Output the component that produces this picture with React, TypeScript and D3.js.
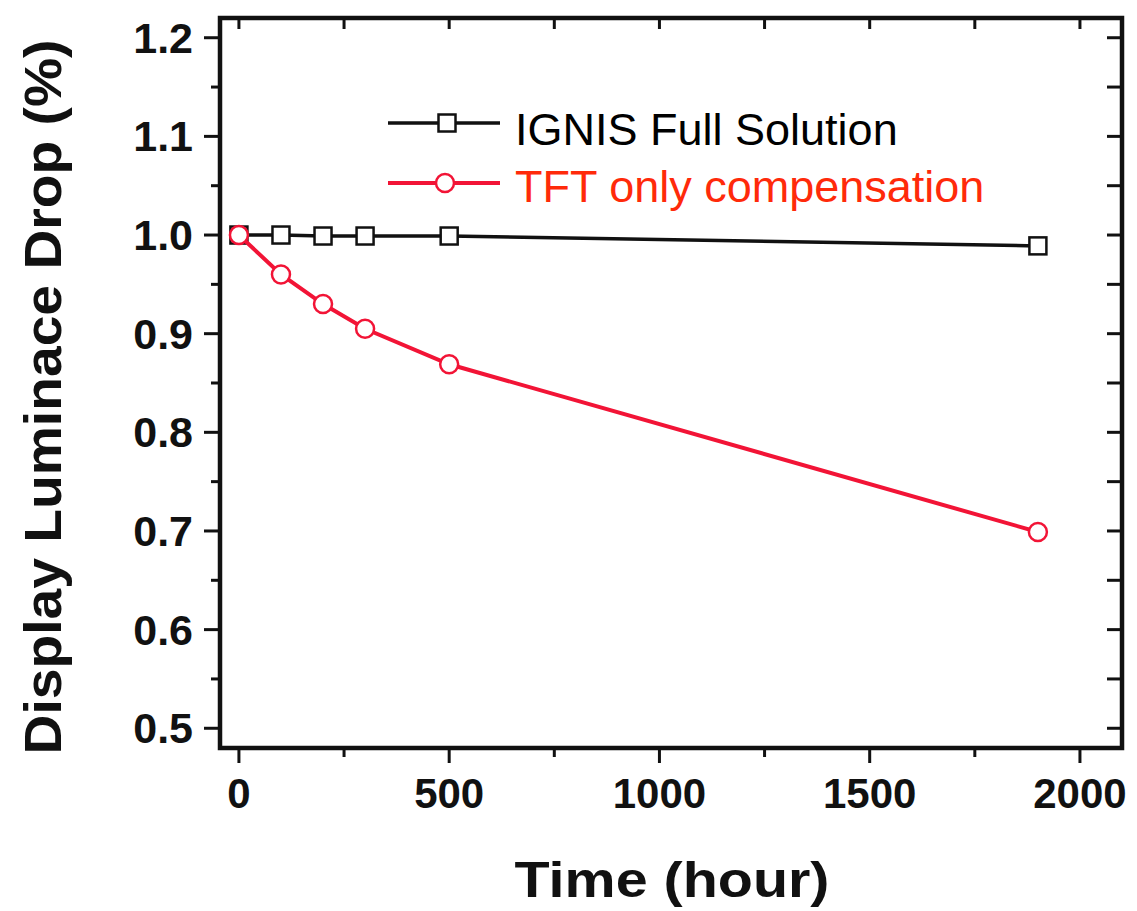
import React from "react";
import * as d3 from "d3";

const hours = [0, 100, 200, 300, 500, 1900];
const ignisValues = [1.0, 1.0, 0.999, 0.999, 0.999, 0.989];
const tftValues = [1.0, 0.96, 0.93, 0.905, 0.869, 0.699];
const seriesNames = ["IGNIS Full Solution", "TFT only compensation"];
const xMajorTicks = [0, 500, 1000, 1500, 2000];
const xMinorTicks = [250, 750, 1250, 1750];
const yMajorTicks = [0.5, 0.6, 0.7, 0.8, 0.9, 1.0, 1.1, 1.2];
const yMinorTicks = [0.55, 0.65, 0.75, 0.85, 0.95, 1.05, 1.15];
const xTitle = "Time (hour)";
const yTitle = "Display Luminace Drop (%)";

const W = 1137;
const H = 911;
const L = 220, R = 1122, T = 18, B = 748;

const BLACK = "#111";
const RED_LINE = "#f21436";
const RED_TEXT = "#ff2a0a";

export default function App() {
  const x = d3.scaleLinear().domain([-45, 2100]).range([L, R]);
  const y = d3.scaleLinear().domain([0.48, 1.22]).range([B, T]);
  const line = d3
    .line<[number, number]>()
    .x((d) => x(d[0]))
    .y((d) => y(d[1]));
  const ignis: [number, number][] = hours.map((h, i) => [h, ignisValues[i]]);
  const tft: [number, number][] = hours.map((h, i) => [h, tftValues[i]]);
  const bold = "'Liberation Sans', Arial, sans-serif";

  return (
    <svg
      width={W}
      height={H}
      style={{ position: "absolute", left: 0, top: 0, background: "#fff" }}
    >
      <rect x={0} y={0} width={W} height={H} fill="#fff" />
      {/* ticks */}
      <g stroke={BLACK} strokeWidth={3}>
        {yMajorTicks.map((v) => (
          <g key={"ym" + v}>
            <line x1={L - 16} x2={L} y1={y(v)} y2={y(v)} />
            <line x1={R - 15} x2={R} y1={y(v)} y2={y(v)} />
          </g>
        ))}
        {yMinorTicks.map((v) => (
          <g key={"yn" + v}>
            <line x1={L - 9} x2={L} y1={y(v)} y2={y(v)} />
            <line x1={R - 15} x2={R} y1={y(v)} y2={y(v)} />
          </g>
        ))}
        {xMajorTicks.map((v) => (
          <g key={"xm" + v}>
            <line x1={x(v)} x2={x(v)} y1={B} y2={B + 15} />
            <line x1={x(v)} x2={x(v)} y1={T} y2={T + 11} />
          </g>
        ))}
        {xMinorTicks.map((v) => (
          <g key={"xn" + v}>
            <line x1={x(v)} x2={x(v)} y1={B} y2={B + 9} />
            <line x1={x(v)} x2={x(v)} y1={T} y2={T + 11} />
          </g>
        ))}
      </g>
      {/* frame */}
      <rect
        x={L}
        y={T}
        width={R - L}
        height={B - T}
        fill="none"
        stroke={BLACK}
        strokeWidth={4.5}
      />
      {/* tick labels */}
      <g fontFamily={bold} fontWeight="bold" fill={BLACK}>
        {yMajorTicks.map((v) => (
          <text
            key={"yl" + v}
            x={193}
            y={y(v) + 15}
            textAnchor="end"
            fontSize={43}
          >
            {v.toFixed(1)}
          </text>
        ))}
        {xMajorTicks.map((v) => (
          <text key={"xl" + v} x={x(v)} y={808} textAnchor="middle" fontSize={42}>
            {String(v)}
          </text>
        ))}
      </g>
      {/* axis titles */}
      <text
        x={672}
        y={897}
        textAnchor="middle"
        fontFamily={bold}
        fontWeight="bold"
        fontSize={50}
        textLength={315}
        lengthAdjust="spacingAndGlyphs"
        fill={BLACK}
      >
        {xTitle}
      </text>
      <text
        transform="translate(61,397) rotate(-90)"
        textAnchor="middle"
        fontFamily={bold}
        fontWeight="bold"
        fontSize={52}
        textLength={715}
        lengthAdjust="spacingAndGlyphs"
        fill={BLACK}
      >
        {yTitle}
      </text>
      {/* series */}
      <path d={line(ignis) ?? ""} fill="none" stroke={BLACK} strokeWidth={3.5} />
      {ignis.map((d, i) => (
        <rect
          key={"sq" + i}
          x={x(d[0]) - 8.5}
          y={y(d[1]) - 8.5}
          width={17}
          height={17}
          fill="#fff"
          stroke={BLACK}
          strokeWidth={2.5}
        />
      ))}
      <path d={line(tft) ?? ""} fill="none" stroke={RED_LINE} strokeWidth={4} />
      {tft.map((d, i) => (
        <circle
          key={"ci" + i}
          cx={x(d[0])}
          cy={y(d[1])}
          r={9}
          fill="#fff"
          stroke={RED_LINE}
          strokeWidth={2.5}
        />
      ))}
      {/* legend */}
      <line x1={388} x2={500} y1={123} y2={123} stroke={BLACK} strokeWidth={3.5} />
      <rect x={447 - 8.5} y={123 - 8.5} width={17} height={17} fill="#fff" stroke={BLACK} strokeWidth={2.5} />
      <text x={515} y={145} fontFamily={bold} fontSize={45} fill="#000">
        {seriesNames[0]}
      </text>
      <line x1={388} x2={500} y1={183} y2={183} stroke={RED_LINE} strokeWidth={4} />
      <circle cx={445} cy={183} r={9} fill="#fff" stroke={RED_LINE} strokeWidth={2.5} />
      <text x={515} y={202} fontFamily={bold} fontSize={45} fill={RED_TEXT}>
        {seriesNames[1]}
      </text>
    </svg>
  );
}
